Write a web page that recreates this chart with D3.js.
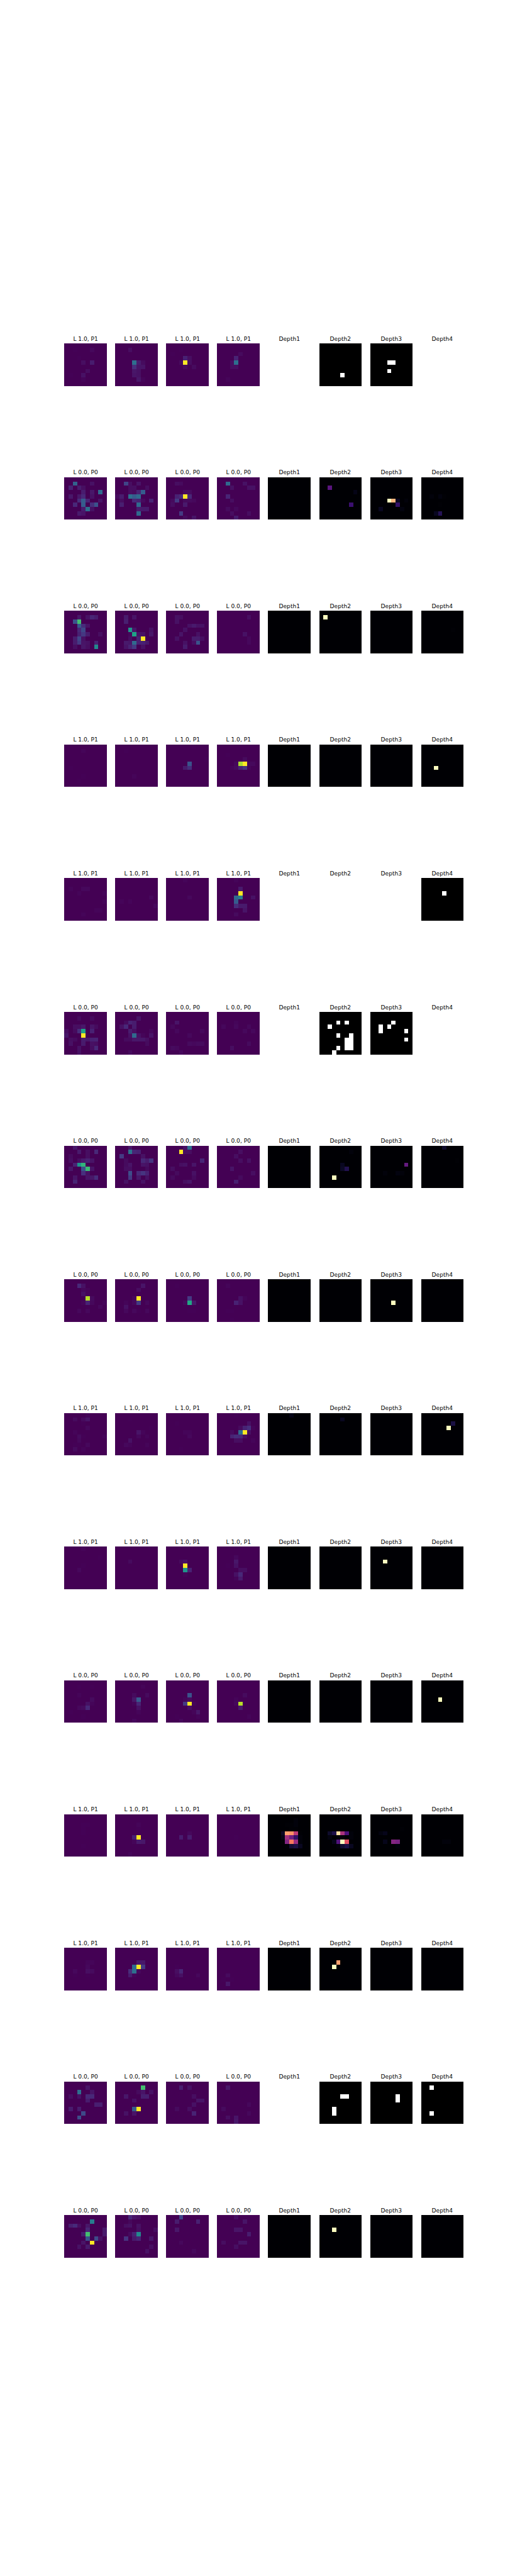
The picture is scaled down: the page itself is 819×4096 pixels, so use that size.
<!DOCTYPE html>
<html>
<head>
<meta charset="utf-8">
<script src="https://cdn.jsdelivr.net/npm/d3@7"></script>
<style>
html,body{margin:0;padding:0;background:#fff}
svg{display:block}
text{font-family:"DejaVu Sans",sans-serif;fill:#000}
rect{shape-rendering:crispEdges}
</style>
</head>
<body>
<div id="chart"></div>
<script>
// Each panel: "rc:v" = grid row r, grid column c, value v (0-100). Unlisted cells are 0. null = blank panel.
const row00 = ["12:1 16:3 33:1 44:5 46:10 65:5 74:6 71:1 84:2",
 "13:5 44:40 45:10 46:4 54:18 55:7 56:7 64:8 65:6 74:7 75:6 85:8 86:2",
 "13:1 21:1 34:12 35:5 43:4 44:100 45:5 54:4 56:4",
 "25:4 34:13 43:5 44:40 53:5 54:5 82:2",
 null, "75:100", "44:100 45:100 64:100", null];
const row01 = ["12:35 16:6 21:12 23:10 24:5 34:10 36:8 38:38 41:8 43:8 44:15 46:6 53:17 54:33 55:14 58:7 62:15 64:33 66:18 67:30 74:10 75:40 76:6 83:9 84:7",
 "12:25 13:5 15:7 23:5 24:5 27:5 33:5 34:4 35:13 36:33 40:4 41:10 43:40 44:33 45:38 51:5 54:15 55:12 56:4 58:13 61:11 65:38 75:10 76:9 77:9 85:38",
 "12:5 13:4 34:4 35:4 42:12 43:16 44:100 45:15 51:4 52:22 54:4 55:4 56:3 61:5 64:9 83:22 94:4 96:7",
 "12:38 16:6 23:6 27:6 28:6 42:14 53:5 72:4 74:3 83:5 87:5 94:10",
 "", "22:27 38:4 67:20", "54:100 55:85 56:6 58:2 66:18 72:6 77:3", "42:2 44:3 45:1 64:1 83:6 84:15"];
const row02 = ["13:8 15:6 16:14 17:10 22:30 23:72 33:32 34:17 35:7 43:15 44:26 53:12 54:21 55:10 58:5 62:10 63:25 64:6 72:10 73:22 74:7 75:6 77:12 82:5 84:8 85:5 87:50",
 "12:9 14:7 22:11 43:55 44:8 48:6 53:3 54:60 55:7 56:6 58:8 63:5 65:12 66:100 72:9 73:8 74:38 75:12 76:12 77:8 82:7 83:13 84:22 86:6",
 "12:6 13:5 22:6 35:6 36:9 37:6 38:6 44:6 53:7 57:6 62:6 66:10 67:10 68:5 74:6 76:5 77:30 84:10",
 "17:5 56:6 67:3 77:3",
 "", "11:100", "", "47:1"];
const row03 = ["14:2 51:1 74:1 83:1", "12:1 74:2", "06:1 39:1 45:30 54:9 55:17",
 "22:1 36:4 44:3 45:88 46:100 47:3 48:3 53:2 54:4 55:13 56:20 57:2",
 "", "", "", "53:100"];
const row04 = ["21:2 24:3 25:3 33:2 39:2 59:2 77:2 78:2 84:2", "48:3 51:2 53:2 69:3", "04:2 45:3",
 "04:2 25:9 35:100 44:38 45:45 48:6 54:33 64:17 65:9 66:9 76:7 84:4",
 null, null, null, "35:100"];
const row05 = ["13:4 16:4 32:5 33:5 34:8 36:7 37:4 40:5 42:4 43:17 44:60 46:12 50:8 54:100 61:5 62:4 64:10 65:8 66:12 67:13 71:6 74:9 76:6 77:5 83:6 86:5 87:15 93:6",
 "15:7 22:4 23:13 24:10 31:6 32:15 34:10 43:10 44:5 48:3 53:6 54:38 55:6 56:2 58:7 62:4 63:4 64:8 65:8 66:8 67:5 77:4 93:4",
 "22:7 31:3 42:3 48:3 55:3 75:4 76:3 77:4 78:4 81:4 82:3 93:3",
 "24:2 31:3 34:3 37:3 46:3 48:3 77:4 83:5",
 null, "24:100 26:100 32:100 54:100 57:100 66:100 67:100 76:100 77:100 84:100 86:100 87:100 93:100",
 "25:100 32:100 34:100 42:100 48:100 68:100", null];
const row06 = ["02:8 13:9 15:5 17:15 21:4 25:5 31:5 33:5 34:9 35:12 36:7 42:13 43:55 44:68 51:8 54:30 55:70 56:7 64:18 65:6 72:7 75:7 76:8 77:17 82:13",
 "03:8 13:42 14:14 15:12 21:22 26:6 32:4 36:15 37:10 38:20 42:4 43:7 46:7 47:6 52:5 53:5 57:4 63:28 65:15 66:20 67:12 73:22 75:8 77:6 82:6 86:6",
 "04:6 05:40 13:100 14:5 15:5 38:14 43:5 44:6 46:7 51:5 62:4 66:6 71:4 76:4 84:5 85:7",
 "15:5 24:5 35:5 37:6 53:7 68:5 75:4 84:11",
 "", "17:2 45:6 55:7 56:14 73:100", "48:30 63:2 66:3 67:2", "05:8 38:1"];
const row07 = ["13:15 14:6 24:3 25:2 34:6 35:2 45:90 46:4 54:2 55:13 56:3 59:2 65:1 68:3 73:3 75:3",
 "16:7 25:5 44:3 45:100 52:2 54:3 55:22 57:3 62:6 72:3 74:3 75:1 77:3",
 "12:1 45:22 54:3 55:62 56:8 75:1 76:1",
 "12:2 45:6 46:2 54:12 55:6 72:1 73:1 93:1",
 "", "", "55:100", ""];
const row08 = ["05:2 12:4 14:4 15:7 24:1 35:3 42:2 53:4 54:1 59:2 63:3 72:1 73:1 75:3 82:4 84:2",
 "13:1 38:1 45:7 46:2 55:3 57:2 63:6 72:3 73:2 77:2",
 "22:1 44:2 45:2 55:3 83:1",
 "04:1 27:6 35:4 36:13 37:18 38:2 43:4 45:38 46:100 47:6 53:13 54:17 55:15 56:5 64:5 65:5 68:2",
 "05:4", "15:6", "", "27:12 36:100"];
const row09 = ["04:2 28:1 44:1 53:3", "33:4", "33:4 34:6 44:100 54:55 55:13 64:2",
 "24:3 34:8 42:1 44:6 55:5 56:5 64:6 65:15 74:2 75:9",
 "", "", "33:100", ""];
const row10 = ["13:1 16:1 33:2 46:4 55:6 56:2 63:3 64:4 65:15 71:1 84:1",
 "16:2 34:4 37:4 44:8 45:32 54:2 55:14 65:6 75:2 94:3",
 "35:30 44:2 45:4 54:22 55:100 56:2 65:5 76:2 77:8 82:1 87:2 93:3",
 "36:4 44:2 54:3 55:90 65:9 87:2",
 "", "", "", "44:100"];
const row11 = ["24:1 25:1 34:1 44:1 74:1",
 "25:2 35:1 54:12 55:100 64:2 65:9 66:8 93:2",
 "45:3 53:10 55:10", "54:1",
 "16:2 24:1 25:1 26:2 35:1 36:1 43:7 44:80 45:77 46:52 47:1 53:4 54:45 55:33 56:18 57:2 63:1 64:38 65:72 66:43 67:2 74:1 75:10 76:12 77:6",
 "42:8 43:13 44:93 45:47 46:24 47:2 52:3 54:2 55:2 57:2 63:5 64:25 65:100 66:62 74:2 75:9 76:12 77:6",
 "37:1 42:3 43:5 63:5 65:38 66:35 76:2",
 "65:2 66:2"];
const row12 = ["35:2 36:2 45:3 52:3 55:5 56:4 62:1 65:1",
 "35:8 36:8 44:38 45:100 46:22 53:17 54:40 55:3 63:10 64:2",
 "42:1 52:5 53:14 62:3 63:6 67:3",
 "62:4 71:1 73:1 82:8",
 "", "34:80 43:100", "", ""];
const row13 = ["15:7 23:40 26:7 31:5 33:6 35:15 36:15 45:10 57:11 58:11 61:10 63:10 74:27 83:28",
 "16:72 25:4 26:7 28:6 32:8 36:11 37:11 44:6 64:33 65:100 72:6 74:7",
 "13:11 15:6 36:5 47:7 48:7 56:6 62:4 65:5 76:13",
 "12:8 57:3 61:4 77:3 82:5 84:7 94:8",
 null, "35:100 36:100 63:100 73:100", "36:100 46:100", "12:100 72:100"];
const row14 = ["16:45 21:11 22:16 23:5 25:8 35:14 39:9 44:10 45:72 49:9 55:30 57:27 58:6 64:7 66:100 73:6 75:9",
 "03:15 04:7 05:5 13:3 22:5 23:6 25:6 35:5 39:5 43:4 44:13 45:50 52:20 54:9 55:14 58:8 78:5 87:6",
 "03:25 12:10 17:12 32:8 63:3 86:3",
 "04:5 16:7 34:7 35:7 47:10 61:5 65:7 66:7 74:5",
 "", "33:100", "", ""];

const chartRows = [row00,row01,row02,row03,row04,row05,row06,row07,row08,row09,row10,row11,row12,row13,row14];
const rowLabels = ["L 1.0, P1","L 0.0, P0","L 0.0, P0","L 1.0, P1","L 1.0, P1","L 0.0, P0","L 0.0, P0","L 0.0, P0",
                   "L 1.0, P1","L 1.0, P1","L 0.0, P0","L 1.0, P1","L 1.0, P1","L 0.0, P0","L 0.0, P0"];
const depthLabels = ["Depth1","Depth2","Depth3","Depth4"];

// Layout follows the reference's 1500x7500 figure, drawn at 0.546.
const k = 0.546, W = 1500, H = 7500;
const plotW = (0.9 - 0.125) * W, plotH = (0.88 - 0.11) * H;
const pw = plotW / (8 + 7 * 0.2);
const rowH = plotH / (15 + 14 * 0.2);
const colStep = pw * 1.2, rowStep = rowH * 1.2;
const x0 = 0.125 * W, y0 = 0.12 * H + (rowH - pw) / 2;

const grid = d3.range(10);
const cell = d3.scaleBand().domain(grid).range([0, pw]);
// Low readings were slightly overestimated by eye, so the faint end of the ramp is compressed.
const position = d3.scaleLinear().domain([0, 20, 100]).range([0, 0.15, 1]);
const viridis = v => d3.interpolateViridis(position(v));
const magma = d3.scaleSequential(d3.interpolateMagma).domain([0, 100]);
const gray = d3.scaleLinear().domain([0, 100]).range(["#000000", "#ffffff"]);

function parsePanel(s) {
  const m = new Map();
  s.split(" ").filter(Boolean).forEach(t => {
    const [rc, v] = t.split(":");
    m.set(rc, +v);
  });
  return grid.flatMap(r => grid.map(c => ({ r, c, v: m.get(`${r}${c}`) || 0 })));
}

const svg = d3.select("#chart").append("svg")
  .attr("width", 819).attr("height", 4096)
  .attr("viewBox", `0 0 ${819 / k} ${4096 / k}`);

chartRows.forEach((panels, ri) => {
  const hasBlank = panels.includes(null);
  panels.forEach((panel, ci) => {
    const g = svg.append("g").attr("transform", `translate(${x0 + ci * colStep},${y0 + ri * rowStep})`);
    g.append("text").attr("x", pw / 2).attr("y", -8.33)
      .attr("text-anchor", "middle").attr("font-size", 16.67)
      .text(ci < 4 ? rowLabels[ri] : depthLabels[ci - 4]);
    if (panel === null) return;
    const color = ci < 4 ? viridis : (hasBlank ? gray : magma);
    g.selectAll("rect").data(parsePanel(panel)).join("rect")
      .attr("x", d => cell(d.c)).attr("y", d => cell(d.r))
      .attr("width", cell.bandwidth()).attr("height", cell.bandwidth())
      .attr("fill", d => color(d.v));
  });
});
</script>
</body>
</html>
